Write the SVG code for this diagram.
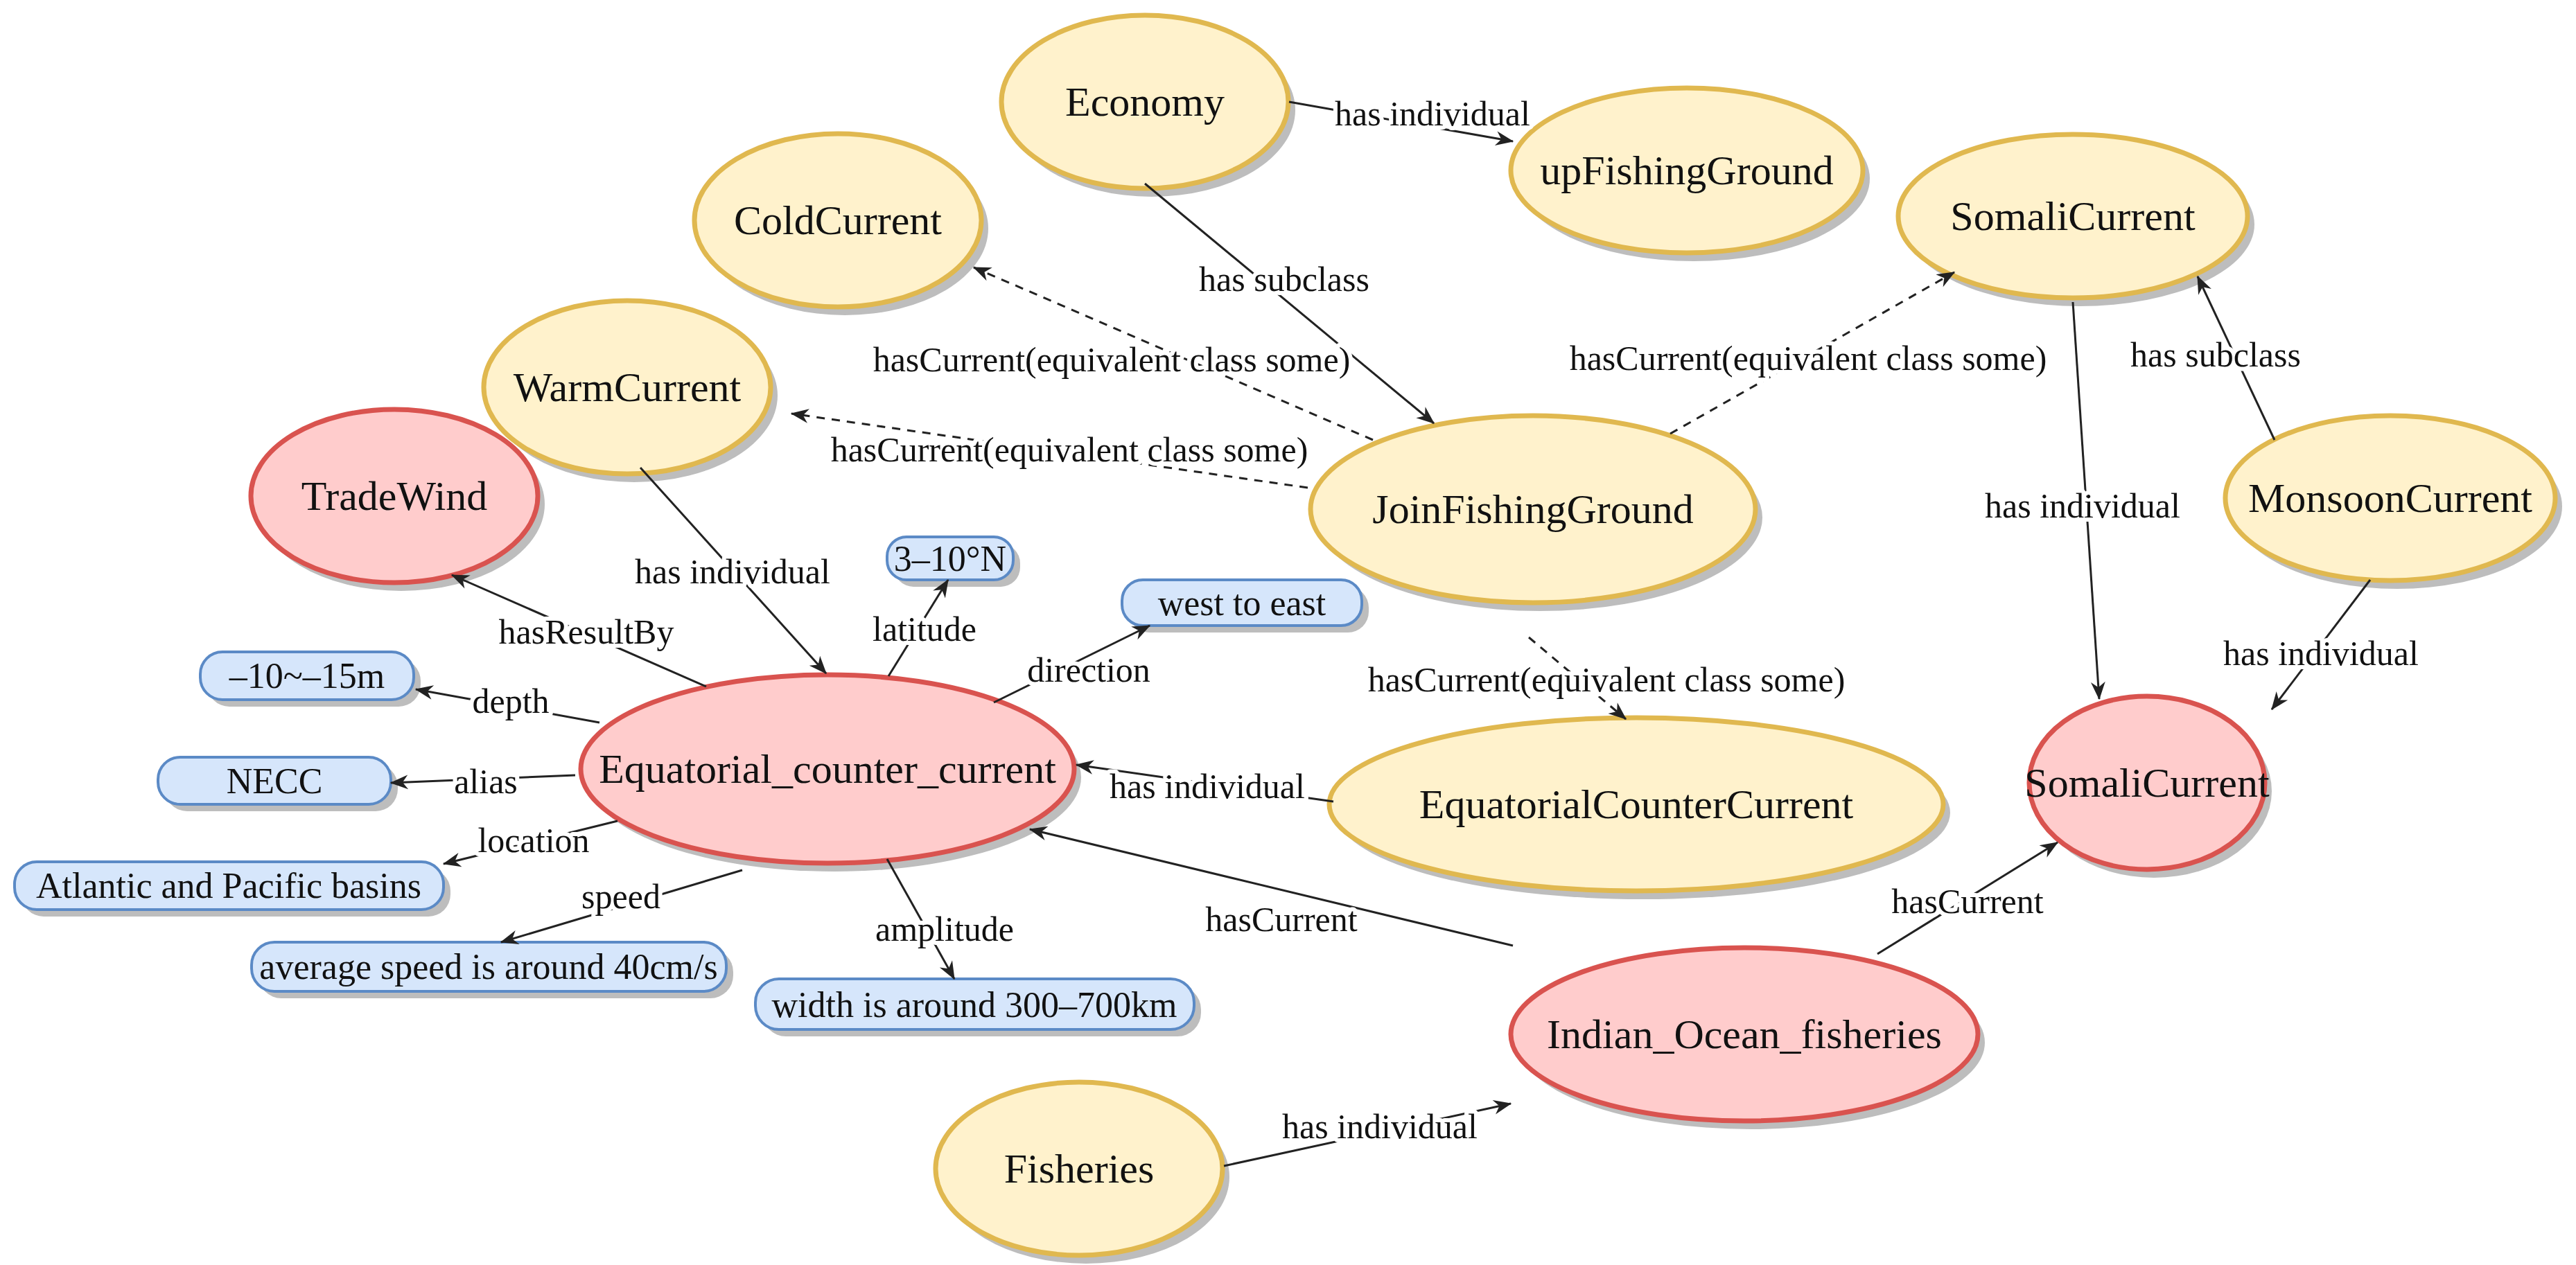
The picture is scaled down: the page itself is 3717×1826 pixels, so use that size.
<svg xmlns="http://www.w3.org/2000/svg" width="3717" height="1826" viewBox="0 0 3717 1826" font-family="'Liberation Serif', 'Times New Roman', 'DejaVu Serif', serif">
<style>
text{font-family:'Liberation Serif','Times New Roman','DejaVu Serif',serif;text-anchor:middle;dominant-baseline:central;fill:#111}
.n{font-size:60px}
.b{font-size:52px}
.l{font-size:50px;stroke:#fff;stroke-width:12px;paint-order:stroke;stroke-linejoin:round}
.y{fill:#fff2cc;stroke:#e0b84f;stroke-width:7}
.r{fill:#ffcccc;stroke:#d9534f;stroke-width:7}
.bl{fill:#d6e6fb;stroke:#5b8ac6;stroke-width:4}
.sh{fill:#bdbdbd}
.e{stroke:#222;stroke-width:3;fill:none;marker-end:url(#a)}
.d{stroke-dasharray:12 10}
</style>
<defs>
<marker id="a" viewBox="0 0 20 20" refX="19" refY="10" markerWidth="30" markerHeight="26" markerUnits="userSpaceOnUse" orient="auto"><path d="M0,2 L20,10 L0,18 L6,10 Z" fill="#222"/></marker>
</defs>
<g id="Economy"><ellipse class="sh" cx="1662" cy="159" rx="207" ry="125"/><ellipse class="y" cx="1652" cy="147" rx="207" ry="125"/><text class="n" x="1652" y="147">Economy</text></g>
<g id="upFishingGround"><ellipse class="sh" cx="2444" cy="258" rx="254" ry="119"/><ellipse class="y" cx="2434" cy="246" rx="254" ry="119"/><text class="n" x="2434" y="246">upFishingGround</text></g>
<g id="ColdCurrent"><ellipse class="sh" cx="1219" cy="330" rx="207" ry="125"/><ellipse class="y" cx="1209" cy="318" rx="207" ry="125"/><text class="n" x="1209" y="318">ColdCurrent</text></g>
<g id="SomaliCurrentClass"><ellipse class="sh" cx="3001" cy="324" rx="252" ry="118"/><ellipse class="y" cx="2991" cy="312" rx="252" ry="118"/><text class="n" x="2991" y="312">SomaliCurrent</text></g>
<g id="WarmCurrent"><ellipse class="sh" cx="915" cy="571" rx="207" ry="125"/><ellipse class="y" cx="905" cy="559" rx="207" ry="125"/><text class="n" x="905" y="559">WarmCurrent</text></g>
<g id="JoinFishingGround"><ellipse class="sh" cx="2222" cy="747" rx="321" ry="135"/><ellipse class="y" cx="2212" cy="735" rx="321" ry="135"/><text class="n" x="2212" y="735">JoinFishingGround</text></g>
<g id="MonsoonCurrent"><ellipse class="sh" cx="3459" cy="731" rx="238" ry="119"/><ellipse class="y" cx="3449" cy="719" rx="238" ry="119"/><text class="n" x="3449" y="719">MonsoonCurrent</text></g>
<g id="TradeWind"><ellipse class="sh" cx="579" cy="728" rx="207" ry="125"/><ellipse class="r" cx="569" cy="716" rx="207" ry="125"/><text class="n" x="569" y="716">TradeWind</text></g>
<g id="Equatorial_counter_current"><ellipse class="sh" cx="1204" cy="1122" rx="356" ry="136"/><ellipse class="r" cx="1194" cy="1110" rx="356" ry="136"/><text class="n" x="1194" y="1110">Equatorial_counter_current</text></g>
<g id="EquatorialCounterCurrent"><ellipse class="sh" cx="2371" cy="1173" rx="443" ry="125"/><ellipse class="y" cx="2361" cy="1161" rx="443" ry="125"/><text class="n" x="2361" y="1161">EquatorialCounterCurrent</text></g>
<g id="SomaliCurrentIndividual"><ellipse class="sh" cx="3108" cy="1142" rx="170" ry="125"/><ellipse class="r" cx="3098" cy="1130" rx="170" ry="125"/><text class="n" x="3098" y="1130">SomaliCurrent</text></g>
<g id="Indian_Ocean_fisheries"><ellipse class="sh" cx="2527" cy="1505" rx="337" ry="125"/><ellipse class="r" cx="2517" cy="1493" rx="337" ry="125"/><text class="n" x="2517" y="1493">Indian_Ocean_fisheries</text></g>
<g id="Fisheries"><ellipse class="sh" cx="1567" cy="1699" rx="207" ry="125"/><ellipse class="y" cx="1557" cy="1687" rx="207" ry="125"/><text class="n" x="1557" y="1687">Fisheries</text></g>
<g id="lat"><rect class="sh" x="1290" y="785" width="182" height="62" rx="28"/><rect class="bl" x="1280" y="775" width="182" height="62" rx="28"/><text class="b" x="1371" y="806">3–10°N</text></g>
<g id="dir"><rect class="sh" x="1629" y="847" width="346" height="66" rx="30"/><rect class="bl" x="1619" y="837" width="346" height="66" rx="30"/><text class="b" x="1792" y="870">west to east</text></g>
<g id="depth"><rect class="sh" x="299" y="951" width="308" height="69" rx="32"/><rect class="bl" x="289" y="941" width="308" height="69" rx="32"/><text class="b" x="443" y="975">–10~–15m</text></g>
<g id="alias"><rect class="sh" x="238" y="1103" width="336" height="68" rx="32"/><rect class="bl" x="228" y="1093" width="336" height="68" rx="32"/><text class="b" x="396" y="1127">NECC</text></g>
<g id="location"><rect class="sh" x="31" y="1254" width="619" height="69" rx="32"/><rect class="bl" x="21" y="1244" width="619" height="69" rx="32"/><text class="b" x="330" y="1278">Atlantic and Pacific basins</text></g>
<g id="speed"><rect class="sh" x="373" y="1370" width="685" height="71" rx="33"/><rect class="bl" x="363" y="1360" width="685" height="71" rx="33"/><text class="b" x="705" y="1395">average speed is around 40cm/s</text></g>
<g id="amplitude"><rect class="sh" x="1100" y="1423" width="633" height="73" rx="34"/><rect class="bl" x="1090" y="1413" width="633" height="73" rx="34"/><text class="b" x="1406" y="1450">width is around 300–700km</text></g>
<g id="connectors">
<line class="e" x1="1860" y1="147" x2="2183" y2="204"/>
<line class="e" x1="1652" y1="265" x2="2069" y2="611"/>
<line class="e d" x1="1981" y1="635" x2="1405" y2="386"/>
<line class="e d" x1="1887" y1="704" x2="1142" y2="597"/>
<line class="e d" x1="2410" y1="626" x2="2820" y2="393"/>
<line class="e" x1="2991" y1="436" x2="3029" y2="1009"/>
<line class="e" x1="3282" y1="635" x2="3171" y2="399"/>
<line class="e" x1="3420" y1="837" x2="3278" y2="1024"/>
<line class="e d" x1="2206" y1="920" x2="2346" y2="1038"/>
<line class="e" x1="1924" y1="1157" x2="1553" y2="1104"/>
<line class="e" x1="2183" y1="1365" x2="1486" y2="1197"/>
<line class="e" x1="2709" y1="1377" x2="2969" y2="1216"/>
<line class="e" x1="1766" y1="1683" x2="2180" y2="1593"/>
<line class="e" x1="924" y1="675" x2="1192" y2="972"/>
<line class="e" x1="1019" y1="991" x2="652" y2="830"/>
<line class="e" x1="1282" y1="976" x2="1368" y2="837"/>
<line class="e" x1="1434" y1="1014" x2="1659" y2="903"/>
<line class="e" x1="865" y1="1043" x2="600" y2="995"/>
<line class="e" x1="830" y1="1119" x2="564" y2="1130"/>
<line class="e" x1="891" y1="1185" x2="640" y2="1247"/>
<line class="e" x1="1071" y1="1256" x2="723" y2="1360"/>
<line class="e" x1="1280" y1="1240" x2="1377" y2="1413"/>
<text class="l" x="2067" y="164">has individual</text>
<text class="l" x="1853" y="403">has subclass</text>
<text class="l" x="1604" y="519">hasCurrent(equivalent class some)</text>
<text class="l" x="1543" y="649">hasCurrent(equivalent class some)</text>
<text class="l" x="2609" y="517">hasCurrent(equivalent class some)</text>
<text class="l" x="3005" y="730">has individual</text>
<text class="l" x="3197" y="512">has subclass</text>
<text class="l" x="3349" y="943">has individual</text>
<text class="l" x="2318" y="981">hasCurrent(equivalent class some)</text>
<text class="l" x="1742" y="1135">has individual</text>
<text class="l" x="1849" y="1327">hasCurrent</text>
<text class="l" x="2839" y="1301">hasCurrent</text>
<text class="l" x="1991" y="1626">has individual</text>
<text class="l" x="1057" y="825">has individual</text>
<text class="l" x="846" y="912">hasResultBy</text>
<text class="l" x="1334" y="908">latitude</text>
<text class="l" x="1571" y="967">direction</text>
<text class="l" x="737" y="1012">depth</text>
<text class="l" x="701" y="1128">alias</text>
<text class="l" x="770" y="1213">location</text>
<text class="l" x="896" y="1294">speed</text>
<text class="l" x="1363" y="1341">amplitude</text>
</g>
</svg>
